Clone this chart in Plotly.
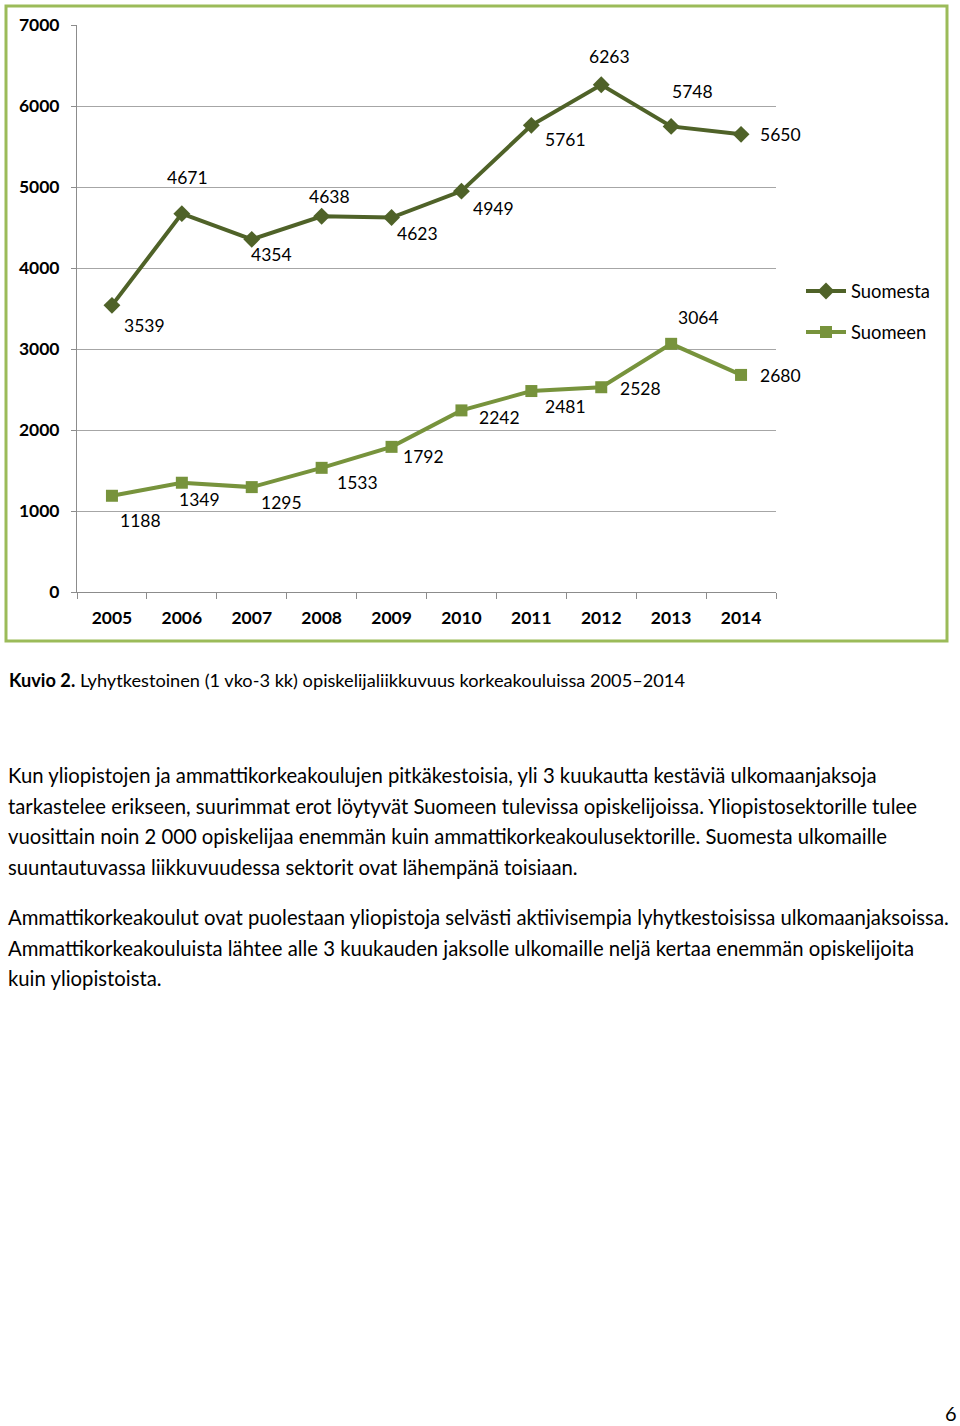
import plotly.graph_objects as go

years = ["2005", "2006", "2007", "2008", "2009", "2010", "2011", "2012", "2013", "2014"]
suomesta = [3539, 4671, 4354, 4638, 4623, 4949, 5761, 6263, 5748, 5650]
suomeen = [1188, 1349, 1295, 1533, 1792, 2242, 2481, 2528, 3064, 2680]
y_ticks = [0, 1000, 2000, 3000, 4000, 5000, 6000, 7000]

# label offsets (pixels) relative to the data point
off_suomesta = [(33, -20), (6, 36), (20, -15), (8, 20), (26, -16), (32, -17), (34, -14), (8, 28), (21, 35), (39, 0)]
off_suomeen = [(29, -25), (18, -17), (30, -15), (36, -15), (32, -10), (38, -7), (34, -15), (39, -1), (27, 26), (39, -1)]

caption = "<b>Kuvio 2.</b> Lyhytkestoinen (1 vko-3 kk) opiskelijaliikkuvuus korkeakouluissa 2005\u20132014"
para1 = [
    "Kun yliopistojen ja ammattikorkeakoulujen pitkäkestoisia, yli 3 kuukautta kestäviä ulkomaanjaksoja",
    "tarkastelee erikseen, suurimmat erot löytyvät Suomeen tulevissa opiskelijoissa. Yliopistosektorille tulee",
    "vuosittain noin 2 000 opiskelijaa enemmän kuin ammattikorkeakoulusektorille. Suomesta ulkomaille",
    "suuntautuvassa liikkuvuudessa sektorit ovat lähempänä toisiaan.",
]
para2 = [
    "Ammattikorkeakoulut ovat puolestaan yliopistoja selvästi aktiivisempia lyhytkestoisissa ulkomaanjaksoissa.",
    "Ammattikorkeakouluista lähtee alle 3 kuukauden jaksolle ulkomaille neljä kertaa enemmän opiskelijoita",
    "kuin yliopistoista.",
]

FONT = "Lato, 'Open Sans', sans-serif"
DARK = "#4F6228"
LIGHT = "#77933C"

W, H = 960, 1426
L, R, T, B = 77, 776, 25, 592


def px(xp):
    return (xp - L) / (R - L)


def py(yp):
    return (B - yp) / (B - T)


fig = go.Figure()
fig.add_trace(go.Scatter(x=years, y=suomesta, mode="lines+markers", name="Suomesta",
                         line=dict(color=DARK, width=4),
                         marker=dict(symbol="diamond", size=13, color=DARK),
                         legend="legend"))
fig.add_trace(go.Scatter(x=years, y=suomeen, mode="lines+markers", name="Suomeen",
                         line=dict(color=LIGHT, width=4),
                         marker=dict(symbol="square", size=12, color=LIGHT),
                         legend="legend2"))

ann = []
for i, (v, (dx, dy)) in enumerate(zip(suomesta, off_suomesta)):
    ann.append(dict(x=i, y=v, xref="x", yref="y", text=str(v), showarrow=False,
                    xshift=dx, yshift=dy, font=dict(size=17.5, color="#000", family=FONT)))
for i, (v, (dx, dy)) in enumerate(zip(suomeen, off_suomeen)):
    ann.append(dict(x=i, y=v, xref="x", yref="y", text=str(v), showarrow=False,
                    xshift=dx, yshift=dy, font=dict(size=17.5, color="#000", family=FONT)))

ann.append(dict(x=px(7), y=py(680), xref="paper", yref="paper", text=caption, showarrow=False,
                xanchor="left", yanchor="middle", font=dict(size=18.2, color="#000", family=FONT)))
ys1 = [775, 806, 836, 867]
ys2 = [917, 948, 978]
for t, yy in zip(para1 + para2, ys1 + ys2):
    ann.append(dict(x=px(6), y=py(yy), xref="paper", yref="paper", text=t, showarrow=False,
                    xanchor="left", yanchor="middle", font=dict(size=20.3, color="#000", family=FONT)))
ann.append(dict(x=px(951), y=py(1413), xref="paper", yref="paper", text="6", showarrow=False,
                xanchor="center", yanchor="middle", font=dict(size=20, color="#000", family=FONT)))

fig.update_layout(
    width=W, height=H,
    margin=dict(l=L, r=W - R, t=T, b=H - B, autoexpand=False),
    paper_bgcolor="white", plot_bgcolor="white",
    font=dict(family=FONT, color="#000"),
    xaxis=dict(type="category", range=[-0.5, 9.5], showgrid=False, showline=True,
               linecolor="#8c8c8c", linewidth=1, ticks="outside", tickson="boundaries",
               ticklen=6, tickcolor="#8c8c8c", tickfont=dict(size=17.5, family=FONT, color="#000"),
               ticklabelstandoff=10, automargin=False,
               tickvals=years, ticktext=[f"<b>{y}</b>" for y in years]),
    yaxis=dict(range=[0, 7000], tickvals=y_ticks, ticktext=[f"<b>{v}</b>" for v in y_ticks],
               showgrid=True, gridcolor="#a6a6a6", gridwidth=1, showline=True, linecolor="#8c8c8c",
               ticks="outside", ticklen=5, tickcolor="#8c8c8c", zeroline=False, automargin=False,
               tickfont=dict(size=17.5, family=FONT, color="#000"), ticklabelstandoff=8),
    showlegend=True,
    legend=dict(x=px(801), y=py(291), xanchor="left", yanchor="middle", bgcolor="rgba(0,0,0,0)",
                font=dict(size=18.4, family=FONT, color="#000"), itemwidth=40),
    legend2=dict(x=px(801), y=py(332), xanchor="left", yanchor="middle", bgcolor="rgba(0,0,0,0)",
                 font=dict(size=18.4, family=FONT, color="#000"), itemwidth=40),
    annotations=ann,
    shapes=[dict(type="rect", xref="paper", yref="paper", x0=px(6), x1=px(947), y0=py(641), y1=py(6),
                 line=dict(color="#9BBB59", width=3), fillcolor="rgba(0,0,0,0)", layer="below")],
)

fig.write_html("out.html", config={"displayModeBar": False},
               post_script="document.body.style.margin='0';document.body.style.overflow='hidden';")
